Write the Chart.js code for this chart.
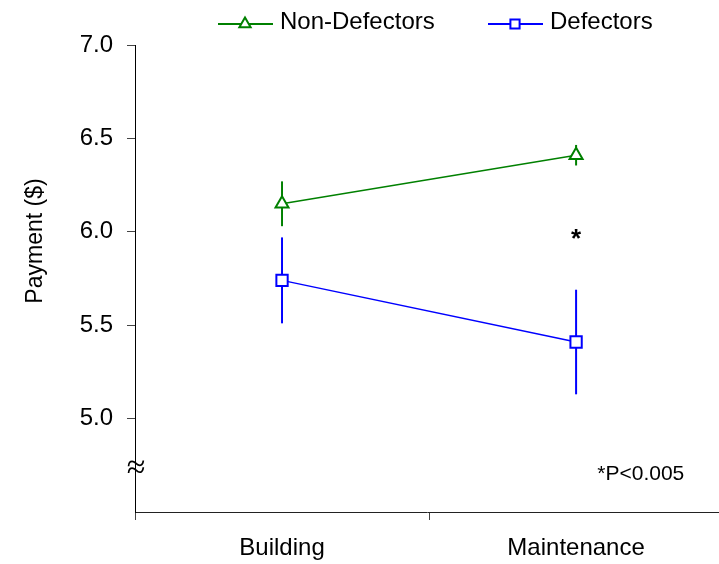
<!DOCTYPE html>
<html>
<head>
<meta charset="utf-8">
<script src="https://cdn.jsdelivr.net/npm/chart.js@4"></script>
<style>
  html, body { margin: 0; padding: 0; background: #fff; }
  #wrap { width: 719px; height: 564px; }
</style>
</head>
<body>
<div id="wrap"><canvas id="paymentChart" width="719" height="564"></canvas></div>
<script>
// data
const categories = ['Building', 'Maintenance'];
const nonDefectors = [6.15, 6.41];
const nonDefectorsErr = [0.12, 0.055];
const defectors = [5.74, 5.41];
const defectorsErr = [0.23, 0.28];
const yTicks = [5.0, 5.5, 6.0, 6.5, 7.0];
const xTicks = [0, 0.5, 1, 1.5];

const FONT = '"Liberation Sans", Arial, sans-serif';

// error bars, drawn under the markers
const errorBars = {
    id: 'errorBars',
    beforeDatasetsDraw(chart) {
        const ctx = chart.ctx;
        const yScale = chart.scales.y;
        chart.data.datasets.forEach((ds, di) => {
            const meta = chart.getDatasetMeta(di);
            ctx.save();
            ctx.strokeStyle = ds.borderColor;
            ctx.lineWidth = 2;
            meta.data.forEach((pt, i) => {
                const v = ds.data[i].y;
                const e = ds.errors[i];
                ctx.beginPath();
                ctx.moveTo(pt.x, yScale.getPixelForValue(v + e));
                ctx.lineTo(pt.x, yScale.getPixelForValue(v - e));
                ctx.stroke();
            });
            ctx.restore();
        });
    }
};

// legend with line + marker, title, and the notes
const extras = {
    id: 'extras',
    afterDraw(chart) {
        const ctx = chart.ctx;
        const xs = chart.scales.x, ys = chart.scales.y;

        // legend
        const items = [
            { ds: chart.data.datasets[0], x0: 218 },
            { ds: chart.data.datasets[1], x0: 488 }
        ];
        items.forEach(it => {
            const ds = it.ds;
            const ly = 24;
            ctx.save();
            ctx.strokeStyle = ds.borderColor;
            ctx.lineWidth = 2;
            ctx.beginPath();
            ctx.moveTo(it.x0, ly);
            ctx.lineTo(it.x0 + 55, ly);
            ctx.stroke();
            ctx.fillStyle = '#fff';
            ctx.lineWidth = 2;
            Chart.helpers.drawPoint(ctx, { pointStyle: ds.pointStyle, radius: 6.5, rotation: 0, borderWidth: 2 }, it.x0 + 27, ly);
            ctx.fillStyle = '#000';
            ctx.font = '24px ' + FONT;
            ctx.textBaseline = 'middle';
            ctx.textAlign = 'left';
            ctx.fillText(ds.label, it.x0 + 62, ly - 2);
            ctx.restore();
        });

        // y title
        ctx.save();
        ctx.translate(36, 241);
        ctx.rotate(-Math.PI / 2);
        ctx.font = '23px ' + FONT;
        ctx.fillStyle = '#000';
        ctx.textAlign = 'center';
        ctx.textBaseline = 'middle';
        ctx.fillText('Payment ($)', 0, 0);
        ctx.restore();

        // significance mark and note
        ctx.save();
        ctx.fillStyle = '#000';
        ctx.textAlign = 'center';
        ctx.textBaseline = 'middle';
        ctx.font = 'bold 26px ' + FONT;
        ctx.fillText('*', xs.getPixelForValue(1.5), ys.getPixelForValue(5.98) + 4);
        ctx.font = '21px ' + FONT;
        ctx.fillText('*P<0.005', xs.getPixelForValue(1.72), ys.getPixelForValue(4.705));
        // axis break
        ctx.font = '34px "Liberation Serif", "DejaVu Serif", serif';
        ctx.fillText('\u2248', xs.left + 1, ys.getPixelForValue(4.73));
        ctx.restore();
    }
};

new Chart(document.getElementById('paymentChart'), {
    type: 'line',
    data: {
        datasets: [
            {
                label: 'Non-Defectors',
                data: nonDefectors.map((v, i) => ({ x: i + 0.5, y: v })),
                errors: nonDefectorsErr,
                borderColor: '#008000',
                backgroundColor: '#fff',
                borderWidth: 1.5,
                pointStyle: 'triangle',
                pointRadius: 7.5,
                pointBorderWidth: 2,
                pointBackgroundColor: '#fff',
                pointBorderColor: '#008000',
                tension: 0,
            },
            {
                label: 'Defectors',
                data: defectors.map((v, i) => ({ x: i + 0.5, y: v })),
                errors: defectorsErr,
                borderColor: '#0000ff',
                backgroundColor: '#fff',
                borderWidth: 1.5,
                pointStyle: 'rect',
                pointRadius: 8,
                pointBorderWidth: 2,
                pointBackgroundColor: '#fff',
                pointBorderColor: '#0000ff',
                tension: 0,
            },
        ],
    },
    options: {
        responsive: false,
        animation: false,
        layout: { autoPadding: false, padding: { top: 45, right: 0, left: 0, bottom: 0 } },
        plugins: {
            legend: { display: false },
            tooltip: { enabled: false },
        },
        scales: {
            x: {
                type: 'linear',
                min: 0,
                max: 1.986,
                afterBuildTicks: scale => { scale.ticks = xTicks.map(v => ({ value: v })); },
                afterFit: scale => {
                    scale.height = 52;
                    scale.paddingLeft = 0;
                    scale.paddingRight = 0;
                },
                border: { display: true, color: '#222', width: 1 },
                grid: {
                    drawOnChartArea: false,
                    tickLength: 8,
                    tickColor: ctx => (ctx.tick && Number.isInteger(ctx.tick.value)) ? '#444' : 'rgba(0,0,0,0)',
                },
                ticks: {
                    autoSkip: false,
                    maxRotation: 0,
                    padding: 14,
                    color: '#000',
                    font: { family: FONT, size: 24 },
                    callback: value => (value % 1 === 0.5) ? categories[Math.floor(value)] : '',
                },
            },
            y: {
                min: 4.5,
                max: 7.0,
                afterBuildTicks: scale => { scale.ticks = yTicks.map(v => ({ value: v })); },
                afterFit: scale => { scale.width = 135; },
                border: { display: true, color: '#000', width: 1 },
                grid: {
                    drawOnChartArea: false,
                    tickLength: 8,
                    tickColor: '#444',
                },
                ticks: {
                    padding: 14,
                    color: '#000',
                    font: { family: FONT, size: 24 },
                    callback: value => Number(value).toFixed(1),
                },
            },
        },
    },
    plugins: [errorBars, extras],
});
</script>
</body>
</html>
